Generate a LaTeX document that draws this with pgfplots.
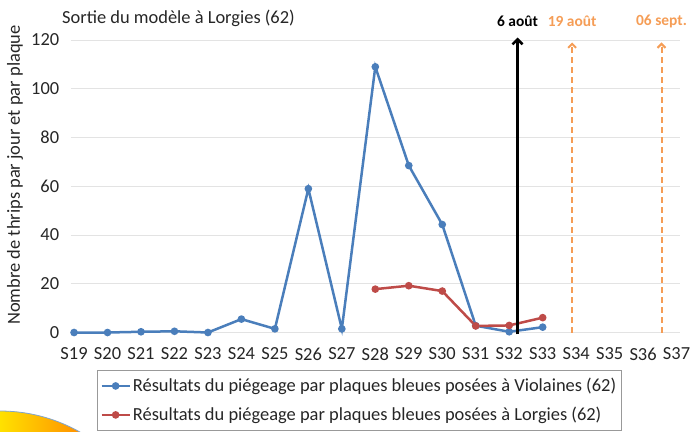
\documentclass[border=0pt]{standalone}
\usepackage{pgfplots}
\pgfplotsset{compat=1.18}
\usepackage{fontspec}
\setmainfont{Carlito}
\usetikzlibrary{arrows.meta}
\definecolor{cblue}{HTML}{4A7EBB}
\definecolor{cred}{HTML}{BE4B48}
\definecolor{corange}{HTML}{F59D56}
\definecolor{cgrid}{HTML}{E3E3E3}
\definecolor{ctext}{HTML}{262626}
\begin{document}
\begin{tikzpicture}[x=1bp,y=1bp,font=\fontsize{18.5}{22}\selectfont]
\useasboundingbox (0,0) rectangle (692,-431);
\begin{scope}
\clip (0,-573) circle (162);
\shade[left color={rgb,255:red,255;green,230;blue,0}, right color={rgb,255:red,255;green,140;blue,0}] (-5,-400) rectangle (85,-440);
\end{scope}
\draw[cblue!70, line width=0.8bp] (0,-573) circle (162);
\node[anchor=west, text=ctext, inner sep=0] at (62,-18) {Sortie du modèle à Lorgies (62)};
\node[rotate=90, text=ctext, inner sep=0] at (15,-175) {Nombre de thrips par jour et par plaque};
\begin{axis}[
  at={(70.7bp,-332.5bp)}, anchor=south west,
  scale only axis, width=609.2bp, height=292.5bp,
  xmin=-0.1, xmax=18.1, ymin=0, ymax=120,
  clip=false,
  axis line style={draw=none},
  major tick length=0pt,
  xtick={0,...,18},
  xticklabels={S19,S20,S21,S22,S23,S24,S25,S26,S27,S28,S29,S30,S31,S32,S33,S34,S35,S36,S37},
  ytick={0,20,...,120},
  ymajorgrids, grid style={cgrid, line width=1bp},
  /pgf/number format/assume math mode=true,
  tick label style={font=\fontsize{18.5}{22}\selectfont, text=ctext},
  xticklabel style={yshift=-12bp},
  yticklabel style={xshift=-8bp},
  legend style={at={(axis description cs:0.043,-0.128)}, anchor=north west,
    draw=gray!80, line width=1bp, font=\fontsize{18.5}{22}\selectfont,
    inner xsep=3bp, inner ysep=6bp, row sep=10bp, text=ctext},
  legend cell align=left,
  legend image code/.code={\draw[mark repeat=2,mark phase=2,#1] plot coordinates {(0bp,0bp) (14bp,0bp) (28bp,0bp)};},
]
\addplot[cblue, line width=2.5bp, mark=*, mark size=2.5bp] coordinates {
(0,0) (1,0) (2,0.3) (3,0.5) (4,0) (5,5.5) (6,1.5) (7,59) (8,1.5) (9,109) (10,68.5) (11,44.3) (12,2.8) (13,0.3) (14,2.2)};
\addlegendentry{Résultats du piégeage par plaques bleues posées à Violaines (62)}
\addplot[cred, line width=2.5bp, mark=*, mark size=2.5bp] coordinates {
(9,17.8) (10,19.2) (11,17) (12,2.7) (13,2.9) (14,6.1)};
\addlegendentry{Résultats du piégeage par plaques bleues posées à Lorgies (62)}
\addplot[black, line width=2.5bp, -{Straight Barb[length=5bp,width=10bp]}, forget plot] coordinates {(13.25,-0.8) (13.25,121)};
\addplot[corange, line width=2bp, dash pattern=on 6bp off 4bp, -{Straight Barb[length=4bp,width=8bp]}, forget plot] coordinates {(14.88,0) (14.88,119)};
\addplot[corange, line width=2bp, dash pattern=on 6bp off 4bp, -{Straight Barb[length=4bp,width=8bp]}, forget plot] coordinates {(17.55,0) (17.55,119)};
\node[font=\fontsize{15.5}{17}\selectfont\bfseries, text=black] at (axis cs:13.25,127.5) {6 août};
\node[font=\fontsize{15.5}{17}\selectfont\bfseries, text=corange] at (axis cs:14.88,127.5) {19 août};
\node[font=\fontsize{15.5}{17}\selectfont\bfseries, text=corange] at (axis cs:17.55,127.5) {06 sept.};
\end{axis}
\end{tikzpicture}
\end{document}
